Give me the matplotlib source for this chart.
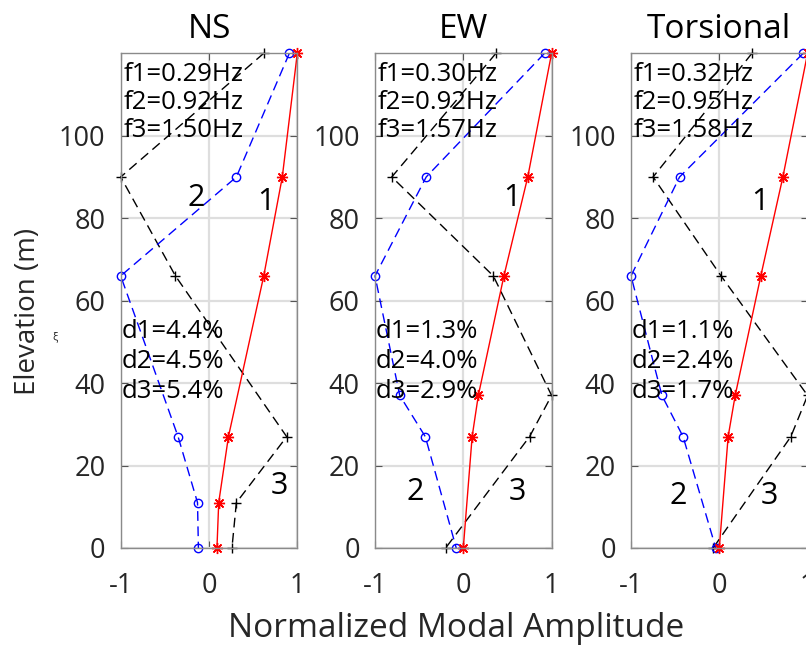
import matplotlib
matplotlib.use("Agg")
import matplotlib.pyplot as plt

plt.rcParams['font.family'] = ['Open Sans', 'DejaVu Sans']
plt.rcParams['axes.unicode_minus'] = False

titles = ["NS", "EW", "Torsional"]

elev_ns = [120, 90, 66, 27, 11, 0]
elev_ew = [120, 90, 66, 37, 27, 0]
elev_tor = [120, 90, 66, 37, 27, 0]

mode1_ns = [1.0, 0.83, 0.62, 0.22, 0.11, 0.09]
mode2_ns = [0.91, 0.31, -1.0, -0.35, -0.13, -0.12]
mode3_ns = [0.62, -1.0, -0.38, 0.88, 0.31, 0.26]

mode1_ew = [1.0, 0.73, 0.46, 0.17, 0.10, 0.0]
mode2_ew = [0.92, -0.42, -1.0, -0.72, -0.43, -0.08]
mode3_ew = [0.37, -0.81, 0.34, 1.0, 0.75, -0.2]

mode1_tor = [1.0, 0.72, 0.47, 0.18, 0.10, 0.0]
mode2_tor = [0.95, -0.45, -1.0, -0.65, -0.41, -0.04]
mode3_tor = [0.37, -0.75, 0.02, 1.0, 0.81, -0.07]

freq_texts = ["f1=0.29Hz\nf2=0.92Hz\nf3=1.50Hz",
              "f1=0.30Hz\nf2=0.92Hz\nf3=1.57Hz",
              "f1=0.32Hz\nf2=0.95Hz\nf3=1.58Hz"]
damp_texts = ["d1=4.4%\nd2=4.5%\nd3=5.4%",
              "d1=1.3%\nd2=4.0%\nd3=2.9%",
              "d1=1.1%\nd2=2.4%\nd3=1.7%"]

# mode number labels: (label, x, y) in data coords
mode_labels = [
    [("2", -0.15, 85), ("1", 0.65, 84), ("3", 0.80, 15)],
    [("1", 0.55, 85), ("2", -0.54, 13.5), ("3", 0.61, 13.5)],
    [("1", 0.46, 84), ("2", -0.46, 12.5), ("3", 0.57, 12.5)],
]

elevs = [elev_ns, elev_ew, elev_tor]
m1 = [mode1_ns, mode1_ew, mode1_tor]
m2 = [mode2_ns, mode2_ew, mode2_tor]
m3 = [mode3_ns, mode3_ew, mode3_tor]

W, H = 806, 645
fig = plt.figure(figsize=(W / 100, H / 100), dpi=100)

lefts_px = [120.7, 375.0, 631.0]
width_px = 176.6
top_px, bottom_px = 53.3, 548.0

tick_color = '#262626'
asterisk = (8, 2, 0)
for i in range(3):
    ax = fig.add_axes([lefts_px[i] / W, 1 - bottom_px / H,
                       width_px / W, (bottom_px - top_px) / H])
    ax.set_xlim(-1, 1)
    ax.set_ylim(0, 120)
    ax.set_xticks([-1, 0, 1])
    ax.set_yticks([0, 20, 40, 60, 80, 100])
    ax.grid(True, color='#dedede', linewidth=1.6)
    ax.set_axisbelow(True)
    for s in ax.spines.values():
        s.set_color('#8a8a8a')
        s.set_linewidth(1.0)
    ax.tick_params(direction='in', length=5, width=0.8, color='#555555',
                   labelsize=19.5, labelcolor=tick_color, top=True, right=True)
    ax.tick_params(axis='x', pad=17)
    ax.tick_params(axis='y', pad=11)
    ax.set_title(titles[i], fontsize=24, color='black', pad=11)

    y = elevs[i]
    ax.plot(m3[i], y, color='k', linestyle='--', marker='+', markersize=7,
            linewidth=1.0, dashes=(7, 4), clip_on=False)
    ax.plot(m2[i], y, color='b', linestyle='--', marker='o', markersize=6,
            markerfacecolor='none', linewidth=1.0, dashes=(7, 4),
            clip_on=False)
    ax.plot(m1[i], y, color='r', linestyle='-', marker=asterisk,
            markersize=8, linewidth=1.0, clip_on=False)

    ax.text(-0.97, 118, freq_texts[i], fontsize=18.5, va='top', ha='left',
            linespacing=1.17, color='black')
    ax.text(-0.99, 55.5, damp_texts[i], fontsize=18.5, va='top', ha='left',
            linespacing=1.27, color='black')
    for lab, lx, ly in mode_labels[i]:
        ax.text(lx, ly, lab, fontsize=22, ha='center', va='center',
                color='black')

fig.text(28 / W, 1 - 311 / H, "Elevation (m)", fontsize=20, rotation=90,
         ha='center', va='center', color=tick_color)
fig.text(55 / W, 1 - 337 / H, "ξ", fontsize=8, ha='center', va='center',
         color=tick_color)
fig.text(456 / W, 1 - 637 / H, "Normalized Modal Amplitude", fontsize=24,
         ha='center', va='baseline', color=tick_color)

fig.savefig("out.png", dpi=100)
